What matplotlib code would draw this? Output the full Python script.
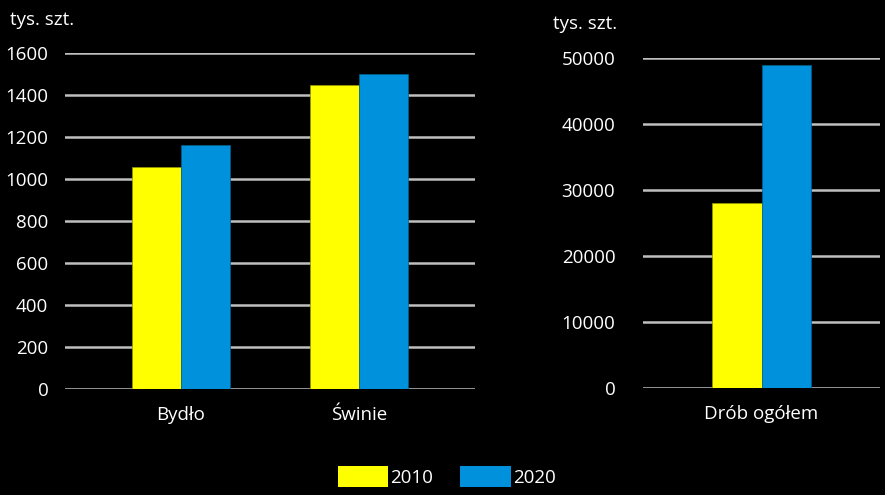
import matplotlib
matplotlib.use("Agg")
import matplotlib.pyplot as plt
from matplotlib.patches import Patch
import numpy as np

plt.rcParams['font.family'] = ['Open Sans', 'DejaVu Sans']

years = ["2010", "2020"]
cats_left = ["Bydło", "Świnie"]
left_2010 = [1057, 1448]
left_2020 = [1162, 1500]
cats_right = ["Drób ogółem"]
right_2010 = [28000]
right_2020 = [49000]
left_ticks = [0, 200, 400, 600, 800, 1000, 1200, 1400, 1600]
right_ticks = [0, 10000, 20000, 30000, 40000, 50000]
unit = "tys. szt."

c2010 = "#FFFF00"
c2020 = "#0091DC"
grid_c = "#BFBFBF"
txt_c = "white"
fs = 13.5
bw = 0.275

fig = plt.figure(figsize=(8.85, 4.95), dpi=100, facecolor="black")
axL = fig.add_axes([0.0734, 0.2141, 0.4633, 0.6788])
axR = fig.add_axes([0.7266, 0.2162, 0.2678, 0.6667])

def style(ax, ticks, cats, xlim, pad):
    ax.set_facecolor("black")
    for s in ax.spines.values():
        s.set_visible(False)
    ax.set_yticks(ticks)
    ax.set_yticklabels([str(t) for t in ticks])
    ax.set_ylim(0, ticks[-1])
    ax.set_xlim(*xlim)
    ax.set_xticks(np.arange(len(cats)))
    ax.set_xticklabels(cats)
    ax.tick_params(axis='both', length=0, colors=txt_c, labelsize=fs)
    ax.tick_params(axis='y', pad=pad)
    ax.tick_params(axis='x', pad=12)
    ax.yaxis.grid(True, color=grid_c, linewidth=1.8)
    ax.set_axisbelow(True)

xL = np.arange(len(cats_left))
axL.bar(xL - bw / 2, left_2010, bw, color=c2010, edgecolor="#9a9a00", linewidth=0.5, zorder=3)
axL.bar(xL + bw / 2, left_2020, bw, color=c2020, edgecolor="#005f90", linewidth=0.5, zorder=3)
style(axL, left_ticks, cats_left, (-0.65, 1.65), 12)

xR = np.arange(len(cats_right))
axR.bar(xR - bw / 2, right_2010, bw, color=c2010, edgecolor="#9a9a00", linewidth=0.5, zorder=3)
axR.bar(xR + bw / 2, right_2020, bw, color=c2020, edgecolor="#005f90", linewidth=0.5, zorder=3)
style(axR, right_ticks, cats_right, (-0.663, 0.663), 20)

fig.text(10 / 885, 1 - 20 / 495, unit, color=txt_c, fontsize=fs, ha="left", va="center")
fig.text(553 / 885, 1 - 24 / 495, unit, color=txt_c, fontsize=fs, ha="left", va="center")

handles = [Patch(facecolor=c2010, edgecolor="none"), Patch(facecolor=c2020, edgecolor="none")]
leg = fig.legend(handles, years, loc="center", bbox_to_anchor=(0.505, 18.5 / 495), ncol=2,
                 frameon=False, fontsize=fs, handlelength=2.67, handleheight=1.33,
                 handletextpad=0.16, columnspacing=1.44, labelcolor=txt_c, borderpad=0)

fig.savefig("out.png", dpi=100, facecolor="black")
